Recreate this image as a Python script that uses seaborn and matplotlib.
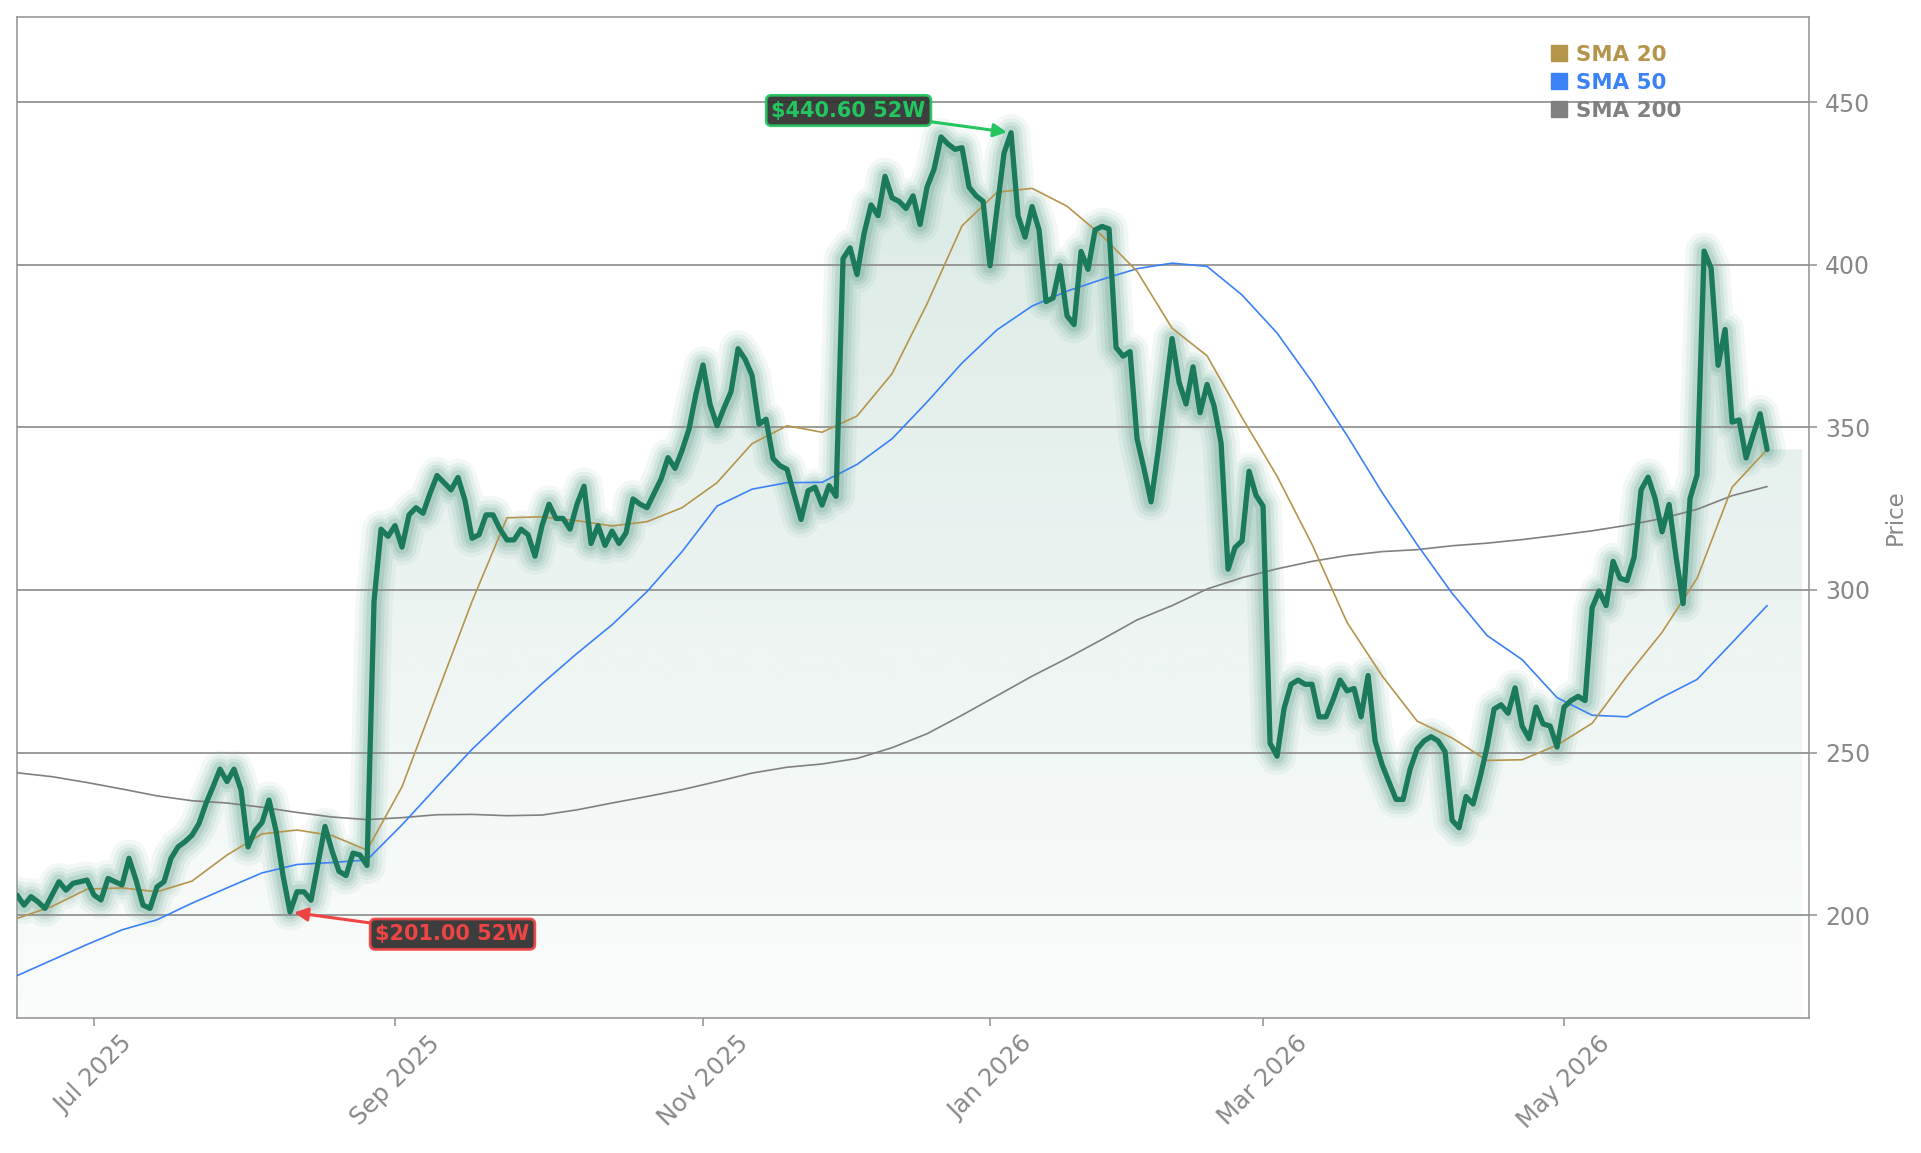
import numpy as np
import pandas as pd
import matplotlib
matplotlib.use("Agg")
import matplotlib.pyplot as plt
from matplotlib.lines import Line2D
from matplotlib.patches import Polygon
from matplotlib.colors import to_rgb
import seaborn as sns

# trading calendar (NYSE holidays in the window)
holidays = ["2025-06-19", "2025-07-04", "2025-09-01", "2025-11-27", "2025-12-25",
            "2026-01-01", "2026-01-19", "2026-02-16", "2026-04-03", "2026-05-25"]
dates = pd.bdate_range("2025-06-13", "2026-06-12", freq="C", holidays=holidays)

# daily close
price = [
    206.2, 203.1, 205.7, 204.1, 202.1, 206.2, 210.3, 207.7, 209.8, 210.3,
    210.8, 206.2, 204.7, 211.3, 210.3, 209.3, 217.5, 210.8, 203.1, 202.1,
    208.7, 210.3, 217.5, 221.0, 222.6, 224.6, 228.2, 234.4, 239.5, 244.9,
    241.1, 244.9, 238.6, 221.0, 226.0, 228.5, 235.4, 226.0, 212.2, 201.0,
    207.2, 207.2, 204.6, 216.0, 227.3, 219.8, 213.5, 212.2, 219.1, 218.5,
    215.3, 296.5, 318.7, 316.5, 319.8, 313.2, 323.1, 325.3, 323.6, 329.7,
    335.2, 333.0, 330.8, 334.6, 327.5, 315.9, 317.0, 323.1, 323.1, 318.7,
    315.4, 315.4, 318.7, 317.0, 310.4, 319.8, 326.4, 322.0, 322.0, 318.7,
    326.4, 331.9, 314.3, 319.8, 313.7, 318.1, 314.3, 317.6, 328.0, 326.4,
    325.3, 329.7, 334.1, 340.7, 337.4, 342.9, 349.5, 360.4, 369.2, 357.1,
    350.5, 356.0, 361.0, 374.2, 371.0, 366.0, 351.0, 352.5, 340.4, 338.2,
    337.1, 329.4, 321.7, 330.5, 331.6, 326.1, 332.1, 328.8, 401.9, 405.2,
    397.0, 409.6, 418.4, 415.1, 427.2, 420.6, 419.5, 417.3, 421.2, 412.4,
    423.9, 429.4, 439.3, 437.1, 435.5, 436.0, 423.9, 421.2, 419.5, 399.7,
    417.3, 434.4, 440.6, 415.1, 408.5, 417.9, 410.7, 388.7, 389.8, 399.7,
    384.3, 381.6, 404.1, 398.6, 410.7, 411.8, 411.0, 374.6, 371.9, 373.3,
    346.5, 337.2, 327.1, 342.5, 359.9, 377.3, 363.9, 357.2, 368.6, 354.5,
    363.2, 356.6, 345.2, 306.4, 313.1, 315.1, 336.5, 329.1, 325.8, 252.9,
    248.9, 263.6, 271.0, 272.3, 271.0, 271.0, 261.0, 261.0, 266.3, 272.3,
    269.0, 269.7, 261.0, 273.7, 253.6, 246.3, 240.9, 235.6, 235.6, 244.9,
    251.1, 253.6, 254.9, 253.6, 250.3, 229.2, 226.9, 236.5, 234.2, 242.4,
    251.7, 263.4, 264.7, 262.1, 269.9, 258.2, 254.3, 264.0, 258.8, 258.2,
    251.7, 264.0, 266.0, 267.3, 266.0, 294.5, 299.7, 295.2, 308.8, 303.6,
    302.9, 310.1, 330.8, 334.7, 328.2, 317.9, 326.3, 310.1, 295.8, 328.2,
    335.4, 404.2, 399.0, 369.1, 380.1, 351.6, 352.3, 340.6, 347.7, 354.2, 343.2,
]

# moving averages, sampled every 5 sessions
sma_step = 5
sma20 = [199.0, 202.7, 208.0, 208.4, 207.2, 210.5, 218.5, 225.0, 226.2, 224.5,
         220.0, 239.5, 268.0, 296.5, 322.2, 322.5, 321.3, 319.7, 321.0, 325.3,
         333.0, 345.0, 350.5, 348.5, 353.5, 366.5, 388.0, 412.0, 422.3, 423.5,
         418.0, 408.9, 398.0, 380.5, 372.0, 353.0, 335.0, 314.0, 290.0, 273.6,
         259.7, 254.5, 247.6, 247.8, 252.3, 259.0, 273.6, 287.0, 303.6, 331.6, 343.2]
sma50 = [181.4, 186.2, 191.0, 195.5, 198.6, 203.7, 208.4, 213.0, 215.6, 216.2,
         217.0, 227.8, 239.5, 251.0, 261.3, 271.2, 280.5, 289.3, 299.5, 311.8,
         325.8, 331.0, 333.0, 333.1, 338.6, 346.5, 357.8, 369.8, 380.0, 387.3,
         391.9, 395.5, 398.8, 400.5, 399.5, 390.7, 379.0, 364.0, 347.5, 330.0,
         314.0, 299.0, 286.0, 278.6, 266.9, 261.5, 261.0, 267.0, 272.5, 283.8, 295.2]
sma200 = [243.8, 242.6, 240.8, 238.8, 236.7, 235.2, 234.5, 233.2, 231.6, 230.2,
          229.4, 230.0, 230.9, 231.0, 230.6, 230.8, 232.4, 234.5, 236.5, 238.6,
          241.1, 243.7, 245.5, 246.5, 248.2, 251.5, 255.8, 261.5, 267.5, 273.5,
          279.0, 284.8, 290.8, 295.2, 300.3, 303.8, 306.5, 308.8, 310.6, 311.8,
          312.4, 313.6, 314.4, 315.5, 316.8, 318.2, 319.9, 322.0, 324.8, 329.0, 331.8]

sma_labels = ["SMA 20", "SMA 50", "SMA 200"]
sma_colors = ["#b5954c", "#3b82f6", "#808080"]

line_color = "#1b7a5c"
up_color = "#22c55e"
down_color = "#ef4444"
grey = "#888888"

sns.set_theme(style="white")
plt.rcParams["font.family"] = ["DejaVu Sans"]

fig = plt.figure(figsize=(19.21, 11.53), dpi=100)
ax = fig.add_axes([0.00885, 0.1171, 0.9329, 0.8682])

x = np.arange(len(price))
p = np.array(price)
ymin, ymax = 168.4, 476.2
x_end = len(price) - 1 + 5

# gradient fill under the close
poly = Polygon(np.column_stack([np.r_[x, x_end, x_end, 0],
                                np.r_[p, p[-1], ymin, ymin]]),
               closed=True, facecolor="none", edgecolor="none")
ax.add_patch(poly)
grad = np.zeros((256, 1, 4))
grad[..., :3] = to_rgb(line_color)
grad[..., 3] = np.linspace(0.02, 0.16, 256)[:, None]
im = ax.imshow(grad, extent=[0, x_end, ymin, p.max()], origin="lower",
               aspect="auto", zorder=0.5, interpolation="bilinear")
im.set_clip_path(poly)

# glow
for lw, a in zip([27, 21, 15.5, 10.5], [0.05, 0.07, 0.09, 0.12]):
    ax.plot(x, p, color=line_color, lw=lw, alpha=a, zorder=2,
            solid_joinstyle="round", solid_capstyle="round")

xs = x[::sma_step]
for vals, c in zip([sma200, sma50, sma20], sma_colors[::-1]):
    sns.lineplot(x=xs, y=vals, color=c, lw=1.2, ax=ax, zorder=2.6)

sns.lineplot(x=x, y=p, color=line_color, lw=3.8, ax=ax, zorder=3)
ax.lines[-1].set_solid_joinstyle("round")

# 52-week markers
hi_i, lo_i = int(p.argmax()), int(p.argmin())
ax.annotate(f"${p[hi_i]:.2f} 52W", xy=(hi_i, p[hi_i]), xytext=(-117, 16),
            textcoords="offset points", ha="center", va="center",
            color=up_color, fontsize=15, fontweight="bold", zorder=6,
            bbox=dict(boxstyle="round,pad=0.25", fc="#2d2d2d", ec=up_color, lw=2, alpha=0.92),
            arrowprops=dict(arrowstyle="-|>", color=up_color, lw=2.2,
                            mutation_scale=20, shrinkA=0, shrinkB=3))
ax.annotate(f"${p[lo_i]:.2f} 52W", xy=(lo_i, p[lo_i]), xytext=(117, -16),
            textcoords="offset points", ha="center", va="center",
            color=down_color, fontsize=15, fontweight="bold", zorder=6,
            bbox=dict(boxstyle="round,pad=0.25", fc="#2d2d2d", ec=down_color, lw=2, alpha=0.92),
            arrowprops=dict(arrowstyle="-|>", color=down_color, lw=2.2,
                            mutation_scale=20, shrinkA=0, shrinkB=3))

ax.set_xlim(0, len(price) + 5)
ax.set_ylim(ymin, ymax)

# month ticks: first session of odd months
first = [i for i in range(1, len(dates))
         if dates[i].month != dates[i - 1].month and dates[i].month % 2 == 1]
ax.set_xticks(first)
ax.set_xticklabels([dates[i].strftime("%b %Y") for i in first])
ax.set_yticks([200, 250, 300, 350, 400, 450])

ax.yaxis.tick_right()
ax.yaxis.set_label_position("right")
ax.set_ylabel("Price", color=grey, fontsize=16.5, labelpad=10)
ax.set_xlabel("")
ax.tick_params(axis="x", bottom=True, length=5.5, width=1.2, color="#999999",
               labelcolor=grey, labelsize=17.5, labelrotation=45, pad=4)
ax.tick_params(axis="y", right=True, left=False, length=5.5, width=1.2, color="#999999",
               labelcolor=grey, labelsize=17, pad=6)

ax.set_axisbelow(False)
ax.yaxis.grid(True, color="#8a8a8a", lw=1.2)
ax.xaxis.grid(False)
for s in ax.spines.values():
    s.set_color("#999999")
    s.set_linewidth(1.2)

handles = [Line2D([], [], ls="none", marker="s", ms=12, color=c) for c in sma_colors]
ax.legend(handles, sma_labels, loc="upper left", bbox_to_anchor=(0.851, 0.981),
          frameon=False, handlelength=0.75, handletextpad=0.45, labelspacing=0.38,
          borderaxespad=0, borderpad=0.4, prop={"weight": "bold", "size": 15.4},
          labelcolor=sma_colors)

fig.savefig("out.png", dpi=100)
plt.close(fig)
